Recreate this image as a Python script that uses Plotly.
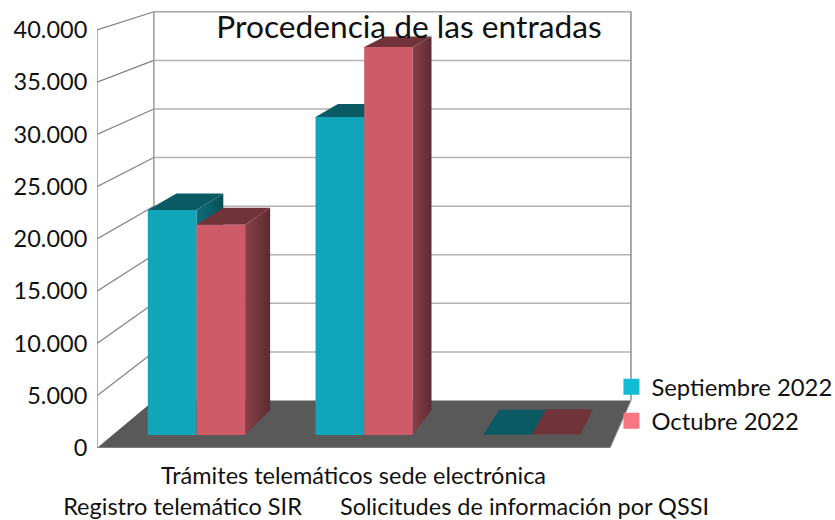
import plotly.graph_objects as go

categories = ["Registro telemático SIR", "Trámites telemáticos sede electrónica", "Solicitudes de información por QSSI"]
tick_rows = [1, 0, 1]
sept_2022 = [21950, 31030, 30]
oct_2022 = [20500, 37860, 60]
series_names = ["Septiembre 2022", "Octubre 2022"]
value_ticks = [0, 5000, 10000, 15000, 20000, 25000, 30000, 35000, 40000]

FONT = "Lato, Carlito, sans-serif"
VP_X, VP_V, K = 4.749, 64880.0, 0.0753


def project(x, depth, value):
    s = 1 / (1 + K * depth)
    return VP_X + (x - VP_X) * s, VP_V + (value - VP_V) * s


fig = go.Figure()


def poly(points, color, gradient=None):
    xy = [project(*p) for p in points]
    kw = dict(fillgradient=dict(type="horizontal", colorscale=[[0, gradient[0]], [1, gradient[1]]])) if gradient else dict(fillcolor=color)
    fig.add_trace(go.Scatter(
        x=[p[0] for p in xy] + [xy[0][0]], y=[p[1] for p in xy] + [xy[0][1]],
        mode="lines", fill="toself", line=dict(width=0), showlegend=False,
        hoverinfo="skip", cliponaxis=False, **kw))


def line(points, color, width):
    xy = [project(*p) for p in points]
    fig.add_trace(go.Scatter(
        x=[p[0] for p in xy], y=[p[1] for p in xy], mode="lines",
        line=dict(color=color, width=width), showlegend=False,
        hoverinfo="skip", cliponaxis=False))


n = len(categories)
top = value_ticks[-1]
poly([(0, 0, 0), (n, 0, 0), (n, 1, 0), (0, 1, 0)], "#595959")
for v in value_ticks[1:-1]:
    line([(0, 1, v), (n, 1, v)], "#b3b3b3", 1.5)
line([(0, 1, top), (n, 1, top)], "#a6a6a6", 1.5)
for v in value_ticks[1:]:
    line([(0, 0, v), (0, 1, v)], "#808080", 1.2)
line([(0, 1, 0), (0, 1, top)], "#9a9a9a", 1.5)
line([(n, 1, 0), (n, 1, top)], "#8c8c8c", 1.5)
line([(0, 0, 0), (0, 0, top)], "#9a9a9a", 1.5)
line([(0, 0, 0), (n, 0, 0)], "#8c8c8c", 1.5)
line([(n, 0, 0), (n, 1, 0)], "#8c8c8c", 1)

D0, D1 = 0.26, 0.79
OFF, W = 0.21, 0.29
styles = [
    dict(front="#10a5b8", top="#0a5a64", side=("#0d6e7a", "#084f58")),
    dict(front="#cd5c68", top="#6f3339", side=("#8a4049", "#5c2b32")),
]
for c in range(n):
    for s, vals in enumerate([sept_2022, oct_2022]):
        x0, x1 = c + OFF + s * W, c + OFF + (s + 1) * W
        v = vals[c]
        st = styles[s]
        poly([(x0, D0, v), (x1, D0, v), (x1, D1, v), (x0, D1, v)], st["top"])
        poly([(x1, D0, 0), (x1, D1, 0), (x1, D1, v), (x1, D0, v)], st["side"][0], gradient=st["side"])
        poly([(x0, D0, 0), (x1, D0, 0), (x1, D0, v), (x0, D0, v)], st["front"])

for name, col in zip(series_names, ["#12bcd4", "#f87582"]):
    fig.add_trace(go.Scatter(x=[None], y=[None], mode="markers", name=name,
                             marker=dict(symbol="square", size=16, color=col)))

fig.update_layout(
    width=835, height=520, margin=dict(l=97, r=201, t=10, b=72, autoexpand=False),
    paper_bgcolor="white", plot_bgcolor="white", separators=",.",
    font=dict(family=FONT, size=22, color="#111111"),
    title=dict(text="Procedencia de las entradas", x=409 / 835, xanchor="center",
               y=1 - 27 / 520, yanchor="middle", font=dict(family=FONT, size=31.7, color="#111111")),
    xaxis=dict(range=[0, 537 / 171], tickmode="array", tickvals=[i + 0.5 for i in range(n)],
               ticktext=["<br>" * r + t for t, r in zip(categories, tick_rows)],
               showgrid=False, zeroline=False, showline=False, ticks="outside", ticklen=7,
               tickcolor="rgba(0,0,0,0)", tickangle=0, tickfont=dict(size=23.5), automargin=False),
    yaxis=dict(range=[0, 438 / 418 * top], tickmode="array", tickvals=value_ticks, tickformat=",d",
               showgrid=False, zeroline=False, showline=False, ticks="outside", ticklen=4,
               tickcolor="rgba(0,0,0,0)", tickfont=dict(size=23.5), automargin=False),
    legend=dict(x=0.958, y=0.19, xanchor="left", yanchor="top", bgcolor="rgba(0,0,0,0)",
                font=dict(size=23.8), tracegroupgap=0),
    hovermode=False,
)
fig.write_html("out.html", config=dict(displayModeBar=False), post_script="document.body.style.margin='0';")
